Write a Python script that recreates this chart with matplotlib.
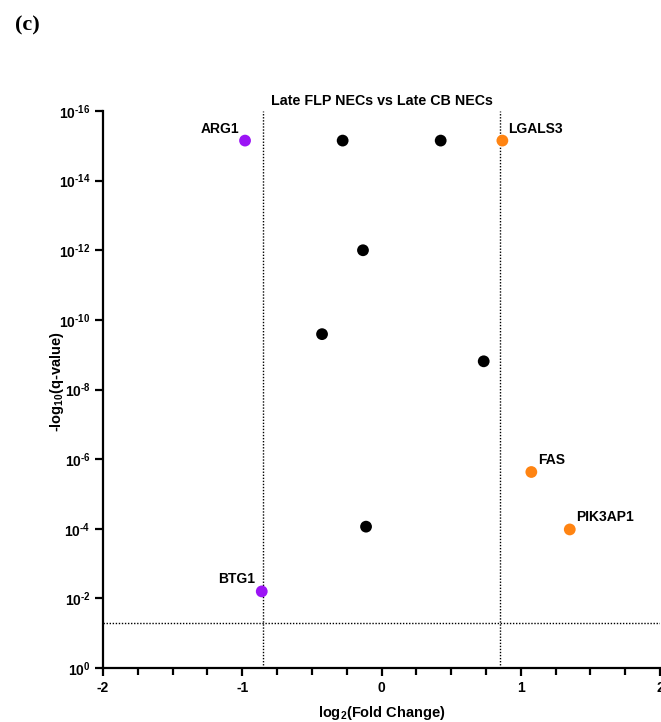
import numpy as np
import matplotlib
matplotlib.use("Agg")
import matplotlib.pyplot as plt
from matplotlib.ticker import FixedLocator, FuncFormatter, MultipleLocator, NullLocator

plt.rcParams["font.family"] = ["Liberation Sans", "DejaVu Sans"]
plt.rcParams["font.weight"] = "bold"
plt.rcParams["mathtext.fontset"] = "custom"
plt.rcParams["mathtext.rm"] = "Liberation Sans:bold"
plt.rcParams["mathtext.it"] = "Liberation Sans:bold"
plt.rcParams["mathtext.bf"] = "Liberation Sans:bold"

# Differential expression results
genes = ["ARG1", "", "", "LGALS3", "", "", "", "FAS", "PIK3AP1", "", "BTG1"]
log2_fc = [-0.980, -0.279, 0.425, 0.868, -0.133, -0.427, 0.734, 1.076, 1.352, -0.111, -0.860]
neg_log10_q = [15.15, 15.15, 15.15, 15.15, 12.0, 9.59, 8.81, 5.63, 3.98, 4.06, 2.20]
status = ["down", "ns", "ns", "up", "ns", "ns", "ns", "up", "up", "ns", "down"]

fc_cutoff = 0.849
q_cutoff = 0.05

status_colors = {"down": "#9b14f5", "up": "#ff8412", "ns": "#000000"}
# pixel offsets of each gene label relative to its point
label_offsets = {
    "ARG1": (-6, 5, "right"),
    "LGALS3": (6, 5, "left"),
    "FAS": (7, 5, "left"),
    "PIK3AP1": (6, 5, "left"),
    "BTG1": (-7, 5, "right"),
}

q_values = 10.0 ** (-np.asarray(neg_log10_q))

fig = plt.figure(figsize=(6.61, 7.22), dpi=100)
W, H = 661, 722
ax = fig.add_axes([103 / W, (H - 668) / H, (660 - 103) / W, (668 - 111) / H])

ax.set_yscale("log")
ax.set_xlim(-2, 2)
ax.set_ylim(1, 1e-16)

# threshold lines
dotted = (0, (1, 1.2))
ax.axvline(-fc_cutoff, color="black", linestyle=dotted, linewidth=1.0, zorder=1)
ax.axvline(fc_cutoff, color="black", linestyle=dotted, linewidth=1.0, zorder=1)
ax.axhline(q_cutoff, color="black", linestyle=dotted, linewidth=1.0, zorder=1)

colors = [status_colors[s] for s in status]
ax.scatter(log2_fc, q_values, s=72, c=colors, edgecolors="none", zorder=3, clip_on=False)

for g, x, q in zip(genes, log2_fc, q_values):
    if not g:
        continue
    dx, dy, ha = label_offsets[g]
    ax.annotate(g, (x, q), xytext=(dx, dy), textcoords="offset pixels",
                ha=ha, va="bottom", fontsize=10, fontweight="bold")

# axes styling
for side in ("top", "right"):
    ax.spines[side].set_visible(False)
for side in ("left", "bottom"):
    ax.spines[side].set_linewidth(1.6)

ax.xaxis.set_major_locator(FixedLocator([-2, -1, 0, 1, 2]))
ax.xaxis.set_minor_locator(MultipleLocator(0.25))
ax.xaxis.set_major_formatter(FuncFormatter(lambda v, p: f"{int(v)}"))
ax.yaxis.set_major_locator(FixedLocator([10.0 ** (-k) for k in range(0, 17, 2)]))
ax.yaxis.set_minor_locator(NullLocator())


def pow_label(v, pos):
    e = int(round(np.log10(v)))
    if e < 0:
        return r"$\mathbf{10^{\text{-}%d}}$" % (-e)
    return r"$\mathbf{10^{%d}}$" % e


ax.yaxis.set_major_formatter(FuncFormatter(pow_label))

ax.tick_params(axis="both", which="major", length=6, width=1.6, labelsize=10, pad=3)
ax.tick_params(axis="x", which="minor", length=5, width=1.6)
for lbl in ax.get_xticklabels() + ax.get_yticklabels():
    lbl.set_fontweight("bold")

ax.set_title("Late FLP NECs vs Late CB NECs", fontsize=10.3, fontweight="bold", pad=4)
ax.set_xlabel(r"log$_\mathbf{2}$(Fold Change)", fontsize=10.5, fontweight="bold")
ax.set_ylabel(r"-log$_\mathbf{10}$(q-value)", fontsize=10.5, fontweight="bold")
ax.xaxis.set_label_coords(0.5, -0.064)
ax.yaxis.set_label_coords(-0.067, 0.515)

fig.text(27 / W, 1 - 25 / H, "(c)", family=["Liberation Serif", "DejaVu Serif"],
         fontsize=16, fontweight="bold", ha="center", va="center")

fig.savefig("out.png", dpi=100)
